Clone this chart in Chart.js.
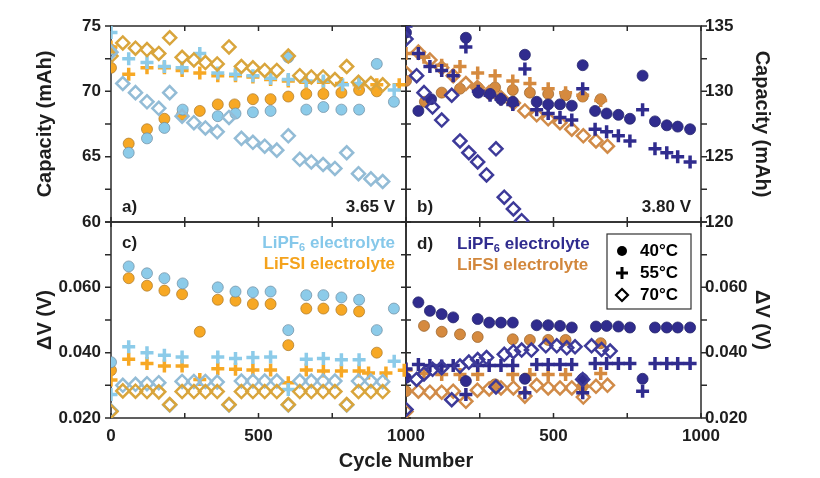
<!DOCTYPE html>
<html>
<head>
<meta charset="utf-8">
<script src="https://cdn.jsdelivr.net/npm/chart.js@4.4.0/dist/chart.umd.min.js"></script>
<style>
  html, body { margin: 0; padding: 0; background: #fff; }
  canvas { display: block; }
</style>
</head>
<body>
<canvas id="chart" width="820" height="478"></canvas>
<script>
// tick labels
const cycleTicksLeft = [0, 500, 1000];
const cycleTicksRight = [500, 1000];
const cycleMinor = [0, 250, 500, 750, 1000];
const capTicksA = [60, 65, 70, 75];
const capTicksB = [120, 125, 130, 135];
const dvTicks = [0.02, 0.04, 0.06];

// a) capacity, 3.65 V   [cycle, mAh]
const a_PF6_40 = [[0,73.2],[60,65.3],[122,66.4],[181,67.2],[243,68.6],[362,68.1],[422,68.3],[481,68.4],[541,68.5],[601,72.6],[662,68.6],[720,68.8],[781,68.6],[841,68.6],[901,72.1],[959,69.2]];
const a_FSI_40 = [[0,71.8],[60,66.0],[122,67.1],[181,67.9],[241,68.2],[301,68.5],[362,69.0],[419,69.0],[481,69.4],[541,69.4],[601,69.6],[662,69.8],[720,69.8],[781,69.9],[841,70.1],[901,70.0]];
const a_PF6_55 = [[0,74.5],[60,72.5],[122,72.2],[181,71.9],[241,71.8],[301,72.9],[362,71.4],[422,71.3],[481,71.2],[541,71.0],[601,70.9],[662,70.8],[720,70.8],[785,70.5],[841,70.6],[960,70.1]];
const a_FSI_55 = [[0,73.4],[60,71.3],[122,71.8],[181,71.8],[241,71.6],[301,71.4],[362,71.2],[422,71.2],[481,71.1],[541,70.9],[601,70.8],[662,70.7],[720,70.7],[781,70.6],[841,70.5],[901,70.5],[977,70.5]];
const a_PF6_70 = [[0,73.0],[40,70.6],[83,69.9],[122,69.2],[162,68.7],[199,69.9],[241,68.1],[281,67.6],[320,67.2],[360,66.9],[400,68.0],[442,66.4],[481,66.1],[521,65.8],[562,65.5],[601,66.6],[640,64.8],[679,64.6],[719,64.4],[759,64.1],[799,65.3],[839,63.7],[881,63.3],[921,63.1]];
const a_FSI_70 = [[0,72.7],[40,73.7],[83,73.3],[122,73.2],[162,72.9],[199,74.1],[241,72.6],[281,72.4],[320,72.2],[360,72.1],[400,73.4],[442,71.9],[481,71.8],[521,71.6],[562,71.6],[601,72.7],[640,71.2],[679,71.1],[719,71.1],[759,70.9],[799,71.9],[839,70.7],[881,70.6],[921,70.5]];

// b) capacity, 3.80 V
const b_PF6_40 = [[0,134.5],[42,128.5],[85,129.4],[203,134.1],[245,129.9],[285,129.8],[322,129.4],[362,129.2],[403,132.8],[443,129.2],[482,129.0],[522,129.0],[562,128.9],[599,132.0],[641,128.5],[680,128.3],[720,128.2],[759,127.9],[802,131.2],[844,127.7],[884,127.4],[921,127.3],[963,127.1]];
const b_FSI_40 = [[0,130.8],[64,129.2],[121,129.9],[183,130.2],[243,130.3],[302,130.3],[362,130.1],[420,129.9],[482,129.8],[541,129.7],[599,129.6],[660,129.4]];
const b_PF6_55 = [[0,135.0],[42,132.9],[81,131.9],[121,131.6],[160,131.2],[203,133.4],[245,130.0],[285,129.7],[322,129.4],[362,129.0],[403,131.7],[443,128.6],[482,128.3],[522,128.0],[562,127.8],[599,130.2],[641,127.1],[680,126.9],[720,126.6],[759,126.2],[802,128.6],[844,125.6],[884,125.3],[921,125.0],[963,124.6]];
const b_FSI_55 = [[0,132.9],[61,132.6],[121,132.0],[183,131.9],[243,131.4],[302,131.2],[362,130.8],[420,130.6],[482,130.2],[541,129.9],[599,129.7],[660,129.3]];
const b_PF6_70 = [[0,134.0],[36,131.2],[61,129.9],[90,128.8],[121,127.8],[155,129.7],[183,126.2],[213,125.3],[243,124.6],[273,123.6],[305,125.6],[333,121.9],[364,121.0],[392,120.1]];
const b_FSI_70 = [[0,131.4],[42,133.0],[81,132.4],[121,131.8],[160,131.2],[203,130.6],[242,130.3],[282,129.9],[322,129.5],[364,129.1],[403,128.5],[443,128.2],[482,127.9],[522,127.6],[562,127.1],[601,126.6],[644,126.2],[683,125.8]];

// c) delta V, 3.65 V   [cycle, V]
const c_PF6_40 = [[0,0.0371],[60,0.0664],[122,0.0643],[181,0.0628],[243,0.0612],[362,0.0600],[422,0.0587],[481,0.0585],[541,0.0587],[601,0.0469],[662,0.0576],[720,0.0576],[781,0.0569],[841,0.0562],[901,0.0469],[959,0.0535]];
const c_FSI_40 = [[0,0.0346],[60,0.0628],[122,0.0605],[181,0.0590],[241,0.0579],[301,0.0464],[362,0.0562],[422,0.0559],[481,0.0549],[541,0.0549],[601,0.0423],[662,0.0535],[720,0.0535],[781,0.0531],[841,0.0526],[901,0.0400]];
const c_PF6_55 = [[0,0.0272],[60,0.0418],[122,0.0400],[181,0.0392],[241,0.0387],[362,0.0387],[422,0.0382],[481,0.0385],[541,0.0387],[601,0.0287],[662,0.0380],[720,0.0382],[781,0.0378],[841,0.0378],[960,0.0374]];
const c_FSI_55 = [[0,0.0316],[60,0.0380],[122,0.0367],[181,0.0359],[241,0.0359],[301,0.0318],[362,0.0351],[422,0.0349],[481,0.0347],[541,0.0347],[601,0.0308],[662,0.0347],[720,0.0344],[781,0.0344],[841,0.0344],[873,0.0338],[932,0.0338],[994,0.0346]];
const c_PF6_70 = [[0,0.0222],[40,0.0300],[83,0.0303],[122,0.0305],[162,0.0308],[199,0.0240],[241,0.0312],[281,0.0312],[320,0.0312],[360,0.0310],[400,0.0240],[442,0.0313],[481,0.0313],[521,0.0313],[562,0.0313],[601,0.0240],[640,0.0313],[679,0.0313],[719,0.0313],[759,0.0313],[799,0.0240],[839,0.0313],[881,0.0313],[921,0.0311]];
const c_FSI_70 = [[0,0.0220],[40,0.0283],[83,0.0282],[122,0.0281],[162,0.0280],[199,0.0241],[241,0.0281],[281,0.0281],[320,0.0281],[360,0.0281],[400,0.0241],[442,0.0281],[481,0.0281],[521,0.0281],[562,0.0281],[601,0.0241],[640,0.0281],[679,0.0281],[719,0.0281],[759,0.0281],[799,0.0241],[839,0.0281],[881,0.0281],[921,0.0281]];

// d) delta V, 3.80 V
const d_PF6_40 = [[0,0.0323],[42,0.0554],[81,0.0528],[121,0.0518],[160,0.0508],[203,0.0313],[243,0.0503],[282,0.0492],[322,0.0492],[362,0.0492],[403,0.0320],[443,0.0484],[482,0.0484],[522,0.0482],[562,0.0477],[599,0.0320],[644,0.0480],[680,0.0482],[720,0.0480],[759,0.0477],[802,0.0320],[844,0.0477],[884,0.0477],[921,0.0477],[963,0.0477]];
const d_FSI_40 = [[0,0.0282],[61,0.0482],[121,0.0464],[183,0.0456],[243,0.0448],[302,0.0303],[362,0.0441],[420,0.0439],[482,0.0439],[541,0.0439],[599,0.0297],[660,0.0429]];
const d_PF6_55 = [[0,0.0350],[42,0.0364],[81,0.0361],[121,0.0359],[160,0.0361],[203,0.0272],[243,0.0361],[282,0.0361],[322,0.0361],[362,0.0361],[403,0.0277],[443,0.0364],[482,0.0364],[522,0.0364],[562,0.0364],[599,0.0277],[641,0.0367],[680,0.0367],[720,0.0367],[759,0.0367],[802,0.0282],[844,0.0367],[884,0.0367],[921,0.0367],[963,0.0367]];
const d_FSI_55 = [[0,0.0347],[61,0.0336],[121,0.0333],[183,0.0333],[243,0.0333],[302,0.0297],[362,0.0333],[420,0.0333],[482,0.0333],[541,0.0333],[599,0.0297],[660,0.0336]];
const d_PF6_70 = [[0,0.0226],[36,0.0318],[61,0.0335],[90,0.0349],[121,0.0354],[155,0.0256],[183,0.0359],[213,0.0371],[243,0.0379],[273,0.0385],[305,0.0295],[333,0.0395],[364,0.0403],[392,0.0408],[425,0.0408],[474,0.0421],[511,0.0421],[545,0.0415],[573,0.0418],[599,0.0318],[629,0.0421],[663,0.0410],[692,0.0405]];
const d_FSI_70 = [[0,0.0220],[42,0.0282],[81,0.0279],[121,0.0279],[160,0.0282],[203,0.0251],[242,0.0285],[282,0.0289],[322,0.0292],[364,0.0292],[403,0.0267],[443,0.0300],[482,0.0292],[522,0.0292],[562,0.0292],[601,0.0264],[644,0.0297],[683,0.0300]];

const LIGHT = '#8ccbe9', ORANGE = '#f7a824', NAVY = '#302c8e', BROWN = '#d58a3f';
const FONT = "'Liberation Sans', Arial, sans-serif";
const INK = '#1e1e1e';

function mk(data, xId, yId, shape, color, edge) {
  const circle = shape === 'circle', cross = shape === 'cross';
  return {
    data: data.map(([x, y]) => ({x, y})),
    xAxisID: xId, yAxisID: yId, showLine: false,
    pointStyle: shape,
    pointRadius: circle ? 5.5 : 6.5,
    pointBorderWidth: circle ? 1 : cross ? 3.5 : 2.5,
    pointBackgroundColor: circle ? color : 'rgba(0,0,0,0)',
    pointBorderColor: edge || color
  };
}

const datasets = [
  mk(a_PF6_70, 'x1', 'yA', 'rectRot', LIGHT, '#93bcd6'),
  mk(a_FSI_70, 'x1', 'yA', 'rectRot', ORANGE, '#d9a53c'),
  mk(a_PF6_55, 'x1', 'yA', 'cross', LIGHT),
  mk(a_FSI_55, 'x1', 'yA', 'cross', ORANGE),
  mk(a_PF6_40, 'x1', 'yA', 'circle', LIGHT, 'rgba(110,140,160,0.7)'),
  mk(a_FSI_40, 'x1', 'yA', 'circle', ORANGE, 'rgba(170,120,40,0.7)'),

  mk(b_PF6_70, 'x2', 'yB', 'rectRot', NAVY, '#3d3a99'),
  mk(b_PF6_55, 'x2', 'yB', 'cross', NAVY),
  mk(b_PF6_40, 'x2', 'yB', 'circle', NAVY, 'rgba(40,40,110,0.8)'),
  mk(b_FSI_70, 'x2', 'yB', 'rectRot', BROWN, '#d18b48'),
  mk(b_FSI_55, 'x2', 'yB', 'cross', BROWN),
  mk(b_FSI_40, 'x2', 'yB', 'circle', BROWN, 'rgba(150,95,40,0.7)'),

  mk(c_FSI_70, 'x1', 'yC', 'rectRot', ORANGE, '#d9a53c'),
  mk(c_PF6_70, 'x1', 'yC', 'rectRot', LIGHT, '#93bcd6'),
  mk(c_PF6_55, 'x1', 'yC', 'cross', LIGHT),
  mk(c_FSI_55, 'x1', 'yC', 'cross', ORANGE),
  mk(c_PF6_40, 'x1', 'yC', 'circle', LIGHT, 'rgba(110,140,160,0.7)'),
  mk(c_FSI_40, 'x1', 'yC', 'circle', ORANGE, 'rgba(170,120,40,0.7)'),

  mk(d_PF6_70, 'x2', 'yD', 'rectRot', NAVY, '#3d3a99'),
  mk(d_PF6_55, 'x2', 'yD', 'cross', NAVY),
  mk(d_PF6_40, 'x2', 'yD', 'circle', NAVY, 'rgba(40,40,110,0.8)'),
  mk(d_FSI_70, 'x2', 'yD', 'rectRot', BROWN, '#d18b48'),
  mk(d_FSI_55, 'x2', 'yD', 'cross', BROWN),
  mk(d_FSI_40, 'x2', 'yD', 'circle', BROWN, 'rgba(150,95,40,0.7)')
];

const PANELS = [
  {x: 'x1', y: 'yA', side: 'left'},
  {x: 'x2', y: 'yB', side: 'right'},
  {x: 'x1', y: 'yC', side: 'left'},
  {x: 'x2', y: 'yD', side: 'right'}
];

// frames with ticks on every side
const framePlugin = {
  id: 'frames',
  beforeDatasetsDraw(chart) {
    const ctx = chart.ctx;
    ctx.save();
    ctx.strokeStyle = '#2a2a2a';
    ctx.lineWidth = 1.5;
    PANELS.forEach(p => {
      const xs = chart.scales[p.x], ys = chart.scales[p.y];
      const L = xs.left, R = xs.right, T = ys.top, B = ys.bottom;
      ctx.strokeRect(L, T, R - L, B - T);
      ctx.beginPath();
      cycleMinor.forEach(v => {
        const px = xs.getPixelForValue(v);
        ctx.moveTo(px, T); ctx.lineTo(px, T + 5);
        ctx.moveTo(px, B); ctx.lineTo(px, B - 5);
      });
      const step = (ys.max - ys.min) / 6;
      for (let i = 0; i <= 6; i++) {
        const py = ys.getPixelForValue(ys.min + i * step);
        if (p.side === 'left') {
          ctx.moveTo(L - 6, py); ctx.lineTo(L, py);
          ctx.moveTo(R, py); ctx.lineTo(R - 5, py);
        } else {
          ctx.moveTo(L, py); ctx.lineTo(L + 5, py);
          ctx.moveTo(R, py); ctx.lineTo(R + 6, py);
        }
      }
      ctx.stroke();
    });
    ctx.restore();
  }
};

function drawElectrolyte(ctx, base, sub, rest, x, y, align, color) {
  const big = 'bold 17px ' + FONT, small = 'bold 11px ' + FONT;
  ctx.font = big; const w1 = ctx.measureText(base).width; const w3 = ctx.measureText(rest).width;
  ctx.font = small; const w2 = sub ? ctx.measureText(sub).width : 0;
  let cx = align === 'right' ? x - (w1 + w2 + w3) : x;
  ctx.fillStyle = color;
  ctx.textAlign = 'left';
  ctx.textBaseline = 'middle';
  ctx.font = big; ctx.fillText(base, cx, y); cx += w1;
  if (sub) { ctx.font = small; ctx.fillText(sub, cx, y + 5); cx += w2; }
  ctx.font = big; ctx.fillText(rest, cx, y);
}

const notePlugin = {
  id: 'notes',
  afterDatasetsDraw(chart) {
    const ctx = chart.ctx, s = chart.scales;
    const mid = s.x1.right, split = s.yA.bottom;
    ctx.save();
    ctx.fillStyle = INK;
    ctx.textBaseline = 'middle';
    ctx.font = 'bold 17px ' + FONT;
    ctx.textAlign = 'left';
    ctx.fillText('a)', s.x1.left + 11, split - 15);
    ctx.fillText('b)', mid + 11, split - 15);
    ctx.fillText('c)', s.x1.left + 11, split + 21);
    ctx.fillText('d)', mid + 11, split + 22);
    ctx.textAlign = 'right';
    ctx.fillText('3.65 V', mid - 11, split - 15);
    ctx.fillText('3.80 V', s.x2.right - 10, split - 15);

    drawElectrolyte(ctx, 'LiPF', '6', ' electrolyte', mid - 11, split + 21, 'right', '#86c8ea');
    drawElectrolyte(ctx, 'LiFSI', '', ' electrolyte', mid - 11, split + 42, 'right', '#f4a21c');
    drawElectrolyte(ctx, 'LiPF', '6', ' electrolyte', mid + 51, split + 22, 'left', NAVY);
    drawElectrolyte(ctx, 'LiFSI', '', ' electrolyte', mid + 51, split + 43, 'left', '#d2873c');

    // temperature key
    const bx = s.x2.right - 94, by = split + 12;
    ctx.fillStyle = '#fff';
    ctx.fillRect(bx, by, 84, 75);
    ctx.strokeStyle = '#333';
    ctx.lineWidth = 1.2;
    ctx.strokeRect(bx, by, 84, 75);
    const sx = bx + 15;
    ctx.fillStyle = '#000';
    ctx.strokeStyle = '#000';
    ctx.beginPath(); ctx.arc(sx, by + 17, 5, 0, Math.PI * 2); ctx.fill();
    ctx.lineWidth = 3;
    ctx.beginPath(); ctx.moveTo(sx - 6, by + 39); ctx.lineTo(sx + 6, by + 39);
    ctx.moveTo(sx, by + 33); ctx.lineTo(sx, by + 45); ctx.stroke();
    ctx.lineWidth = 2.2;
    ctx.beginPath(); ctx.moveTo(sx, by + 55); ctx.lineTo(sx + 6, by + 61); ctx.lineTo(sx, by + 67);
    ctx.lineTo(sx - 6, by + 61); ctx.closePath(); ctx.stroke();
    ctx.font = 'bold 17px ' + FONT;
    ctx.textAlign = 'left';
    ctx.fillText('40°C', bx + 33, by + 17);
    ctx.fillText('55°C', bx + 33, by + 39);
    ctx.fillText('70°C', bx + 33, by + 61);

    // shared x title
    ctx.fillStyle = INK;
    ctx.textAlign = 'center';
    ctx.font = 'bold 20px ' + FONT;
    ctx.fillText('Cycle Number', mid, 461);
    ctx.restore();
  }
};

const tickFont = {family: FONT, size: 17, weight: 'bold'};
const titleFont = {family: FONT, size: 20, weight: 'bold'};

function xAxis(labels, weight) {
  return {
    type: 'linear', axis: 'x', position: 'bottom', stack: 'cycles', weight,
    min: 0, max: 1000,
    grid: {display: false, drawTicks: false}, border: {display: false},
    ticks: {color: INK, font: tickFont, padding: 8, maxRotation: 0, autoSkip: false, callback: v => String(v)},
    afterBuildTicks: sc => { sc.ticks = labels.map(v => ({value: v})); },
    afterFit: sc => { sc.height = 60; }
  };
}

function yAxis(pos, stack, weight, min, max, labels, fmt, title, titlePad, width) {
  return {
    type: 'linear', axis: 'y', position: pos, stack, weight, min, max,
    grid: {display: false, drawTicks: false}, border: {display: false},
    ticks: {color: INK, font: tickFont, padding: pos === 'left' ? 10 : 4, autoSkip: false, callback: fmt},
    afterBuildTicks: sc => { sc.ticks = labels.map(v => ({value: v})); },
    title: {display: true, text: title, color: INK, font: titleFont, padding: {top: titlePad, bottom: 0}},
    afterFit: sc => { sc.width = width; }
  };
}

const capFmt = v => String(v);
const dvFmt = v => v.toFixed(3);

new Chart(document.getElementById('chart'), {
  type: 'scatter',
  data: {datasets},
  options: {
    responsive: false,
    animation: false,
    devicePixelRatio: 1,
    events: [],
    layout: {padding: {top: 26, left: 0, right: 0, bottom: 0}},
    plugins: {legend: {display: false}, tooltip: {enabled: false}},
    scales: {
      x1: xAxis(cycleTicksLeft, 0),
      x2: xAxis(cycleTicksRight, 1),
      yA: yAxis('left', 'lefty', 1, 60, 75, capTicksA, capFmt, 'Capacity (mAh)', 33, 111),
      yC: yAxis('left', 'lefty', 0, 0.02, 0.08, dvTicks, dvFmt, 'ΔV (V)', 33, 111),
      yB: yAxis('right', 'righty', 0, 120, 135, capTicksB, capFmt, 'Capacity (mAh)', 46, 119),
      yD: yAxis('right', 'righty', 1, 0.02, 0.08, dvTicks, dvFmt, 'ΔV (V)', 46, 119)
    }
  },
  plugins: [framePlugin, notePlugin]
});
</script>
</body>
</html>
